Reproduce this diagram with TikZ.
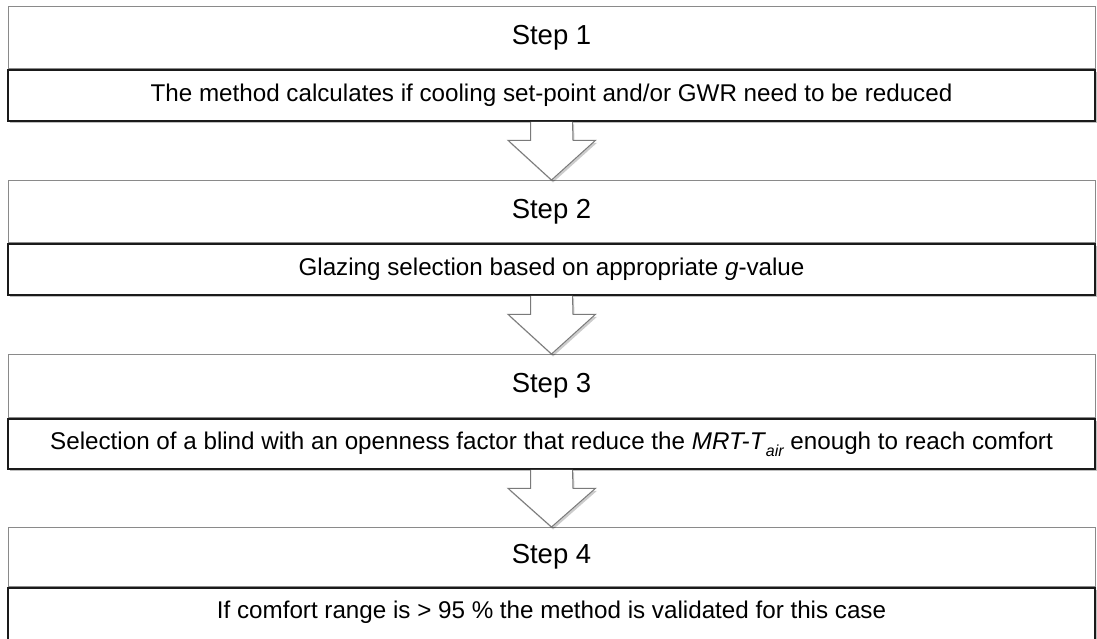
\documentclass[tikz,border=0pt]{standalone}
\usepackage{fontspec}
\setmainfont{Liberation Sans}
\usetikzlibrary{shadows,calc}
\definecolor{hdrline}{HTML}{8A8A8A}
\definecolor{bodyline}{HTML}{1A1A1A}
\definecolor{arrline}{HTML}{7A7A7A}
\newcommand{\lowsub}[1]{\raisebox{-0.55ex}{\fontsize{16}{16}\selectfont\itshape #1}}
\tikzset{
  x=1pt,y=1pt,
  hdrbox/.style={draw=hdrline,line width=1pt,fill=white,minimum width=1087pt,inner sep=0pt,anchor=north,
    font=\fontsize{27.5}{30}\selectfont},
  bodybox/.style={draw=bodyline,line width=1.8pt,fill=white,minimum width=1087pt,inner sep=0pt,anchor=north,
    font=\fontsize{24.2}{28}\selectfont,
    drop shadow={shadow xshift=1.5pt,shadow yshift=-2.5pt,opacity=0.25,fill=black}},
  blockarrow/.style={draw=arrline,line width=1pt,fill=white,line join=miter,
    drop shadow={shadow xshift=1.5pt,shadow yshift=-2.5pt,opacity=0.2,fill=black}}
}
\begin{document}
\begin{tikzpicture}
\useasboundingbox (0,0) rectangle (1097,638);
% box 1
\node[hdrbox,minimum height=62pt] (h1) at (551.5,632) {Step 1};
\node[bodybox,minimum height=51pt] (b1) at (h1.south) {The method calculates if cooling set-point and/or GWR need to be reduced};
% box 2
\node[hdrbox,minimum height=62pt] (h2) at (551.5,458) {Step 2};
\node[bodybox,minimum height=51pt] (b2) at (h2.south) {Glazing selection based on appropriate \textit{g}-value};
% box 3
\node[hdrbox,minimum height=63pt] (h3) at (551.5,284) {Step 3};
\node[bodybox,minimum height=50pt] (b3) at (h3.south) {Selection of a blind with an openness factor that reduce the \textit{MRT-T}\lowsub{air} enough to reach comfort};
% box 4
\node[hdrbox,minimum height=59pt] (h4) at (551.5,111) {Step 4};
\node[bodybox,minimum height=54pt] (b4) at (h4.south) {};
\node[font=\fontsize{24.2}{28}\selectfont] (t4) at ($(h4.south)+(0,-25)$) {If comfort range is > 95 \% the method is validated for this case};
% arrows
\foreach \a/\b in {b1/h2,b2/h3,b3/h4}{
  \draw[blockarrow] ($(\a.south)+(-21,0)$) -- ++(0,-18.5) -- ++(-22.5,0) -- (\b.north)
    -- ($(\a.south)+(44,-18.5)$) -- ++(-22.5,0) -- ($(\a.south)+(21,0)$);
}
\end{tikzpicture}
\end{document}
